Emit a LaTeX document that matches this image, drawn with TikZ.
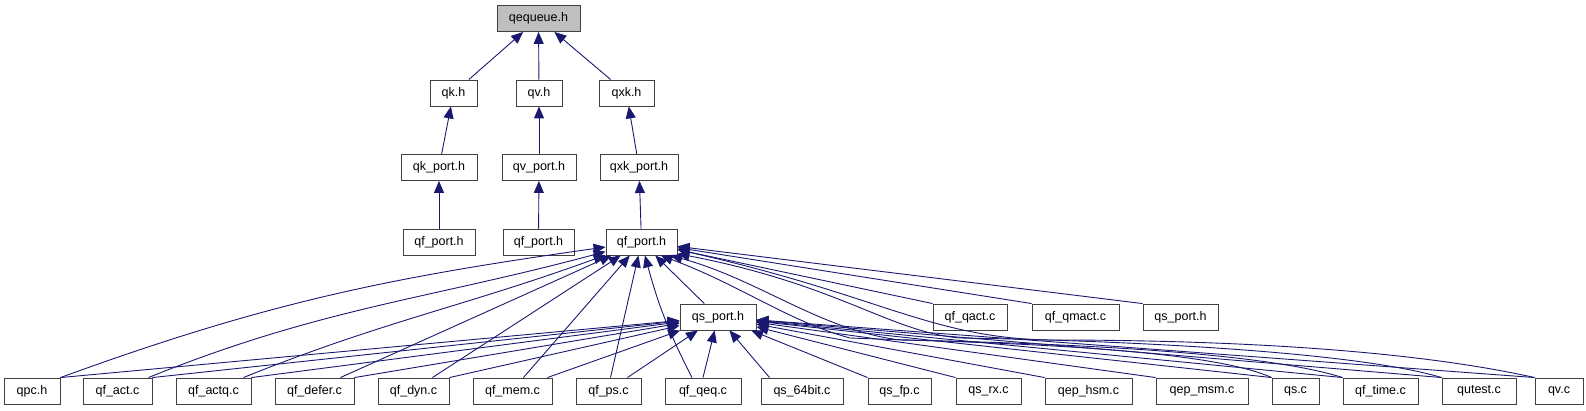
\documentclass[tikz,border=0pt]{standalone}
\usepackage{fontspec}
\setmainfont{Liberation Sans}
\usetikzlibrary{arrows.meta}
\definecolor{edgeblue}{RGB}{25,25,112}
\tikzset{
  file/.style={draw=black!75, line width=0.9pt, fill=white, minimum height=26pt,
    inner sep=0pt, font=\fontsize{12.5}{14}\selectfont},
  dep/.style={draw=edgeblue, line width=0.9pt, -{Triangle[length=12pt,width=10pt]}},
}
\begin{document}
\begin{tikzpicture}[x=1pt,y=-1pt]
\useasboundingbox (0,0) rectangle (1586,411);
% top part
\node[file, fill=black!25, minimum width=83pt] (qequeue) at (538.5,18.5) {qequeue.h};
\node[file, minimum width=47pt] (qk) at (453.5,93) {qk.h};
\node[file, minimum width=46pt] (qv) at (539,93) {qv.h};
\node[file, minimum width=55pt] (qxk) at (626.5,93) {qxk.h};
\node[file, minimum width=76pt] (qkport) at (439,167.5) {qk\_port.h};
\node[file, minimum width=74pt] (qvport) at (539,167.5) {qv\_port.h};
\node[file, minimum width=78pt] (qxkport) at (639,167.5) {qxk\_port.h};
\node[file, minimum width=72pt] (qfportk) at (439,242) {qf\_port.h};
\node[file, minimum width=71pt] (qfportv) at (538.5,242) {qf\_port.h};
\node[file, minimum width=71pt] (qfport) at (641.5,242) {qf\_port.h};
% middle row
\node[file, minimum width=76pt] (qsport) at (718,317) {qs\_port.h};
\node[file, minimum width=74pt] (qfqact) at (970,317) {qf\_qact.c};
\node[file, minimum width=87pt] (qfqmact) at (1075.5,317) {qf\_qmact.c};
\node[file, minimum width=75pt] (qsportr) at (1180.5,317) {qs\_port.h};
% bottom row
\node[file, minimum width=56pt] (qpc) at (32,391) {qpc.h};
\node[file, minimum width=69pt] (qfact) at (117.5,391) {qf\_act.c};
\node[file, minimum width=75pt] (qfactq) at (213.5,391) {qf\_actq.c};
\node[file, minimum width=79pt] (qfdefer) at (314.5,391) {qf\_defer.c};
\node[file, minimum width=71pt] (qfdyn) at (413.5,391) {qf\_dyn.c};
\node[file, minimum width=79pt] (qfmem) at (512.5,391) {qf\_mem.c};
\node[file, minimum width=65pt] (qfps) at (608.5,391) {qf\_ps.c};
\node[file, minimum width=76pt] (qfqeq) at (703,391) {qf\_qeq.c};
\node[file, minimum width=82pt] (qs64) at (802,391) {qs\_64bit.c};
\node[file, minimum width=63pt] (qsfp) at (899.5,391) {qs\_fp.c};
\node[file, minimum width=65pt] (qsrx) at (988.5,391) {qs\_rx.c};
\node[file, minimum width=87pt] (qephsm) at (1088.5,391) {qep\_hsm.c};
\node[file, minimum width=92pt] (qepmsm) at (1202,391) {qep\_msm.c};
\node[file, minimum width=47pt] (qsc) at (1295.5,391) {qs.c};
\node[file, minimum width=75pt] (qftime) at (1380.5,391) {qf\_time.c};
\node[file, minimum width=74pt] (qutest) at (1479,391) {qutest.c};
\node[file, minimum width=48pt] (qvc) at (1559,391) {qv.c};
% upper edges
\draw[dep] (qk) -- (qequeue);
\draw[dep] (qv) -- (qequeue);
\draw[dep] (qxk) -- (qequeue);
\draw[dep] (qkport) -- (qk);
\draw[dep] (qvport) -- (qv);
\draw[dep] (qxkport) -- (qxk);
\draw[dep] (qfportk) -- (qkport);
\draw[dep] (qfportv) -- (qvport);
\draw[dep] (qfport) -- (qxkport);
% into qf_port.h
\draw[dep] (qpc.north east) to[out=20,in=188] (qfport);
\draw[dep] ([xshift=-4pt]qfact.north east) to[out=22,in=195] (qfport);
\draw[dep] ([xshift=-8pt]qfactq.north east) to[out=22,in=200] (qfport);
\draw[dep] ([xshift=-14pt]qfdefer.north east) -- (qfport);
\draw[dep] ([xshift=-17pt]qfdyn.north east) -- (qfport);
\draw[dep] ([xshift=-29pt]qfmem.north east) -- (qfport);
\draw[dep] ([xshift=2pt]qfps.north) -- (qfport);
\draw[dep] ([xshift=-11pt]qfqeq.north) to[bend left=6] (qfport);
\draw[dep] (qsport) -- (qfport);
\draw[dep] (qfqact.north west) -- (qfport);
\draw[dep] (qfqmact.north west) -- (qfport);
\draw[dep] (qsportr.north west) -- (qfport);
\draw[dep] (qsc.north west) .. controls (1200,345) and (950,342) .. (850,338) .. controls (790,322) and (740,285) .. (qfport.325);
\draw[dep] (qftime.north west) .. controls (1250,348) and (1000,342) .. (900,340) .. controls (820,330) and (760,280) .. (qfport.335);
\draw[dep] (qutest.north west) .. controls (1350,350) and (1100,340) .. (960,338) .. controls (890,332) and (840,285) .. (qfport.342);
\draw[dep] (qvc.north west) .. controls (1420,352) and (1250,340) .. (1050,340) .. controls (930,338) and (880,295) .. (qfport.348);
% into qs_port.h
\draw[dep] (qpc.north east) -- (qsport);
\draw[dep] (qfact.north east) -- (qsport);
\draw[dep] (qfactq.north east) -- (qsport);
\draw[dep] (qfdefer.north east) -- (qsport);
\draw[dep] (qfdyn.north east) -- (qsport);
\draw[dep] ([xshift=-5pt]qfmem.north east) -- (qsport);
\draw[dep] ([xshift=-14pt]qfps.north east) -- (qsport);
\draw[dep] (qfqeq.north) -- (qsport);
\draw[dep] ([xshift=9pt]qs64.north west) -- (qsport);
\draw[dep] (qsfp.north west) -- (qsport);
\draw[dep] (qsrx.north west) -- (qsport);
\draw[dep] (qephsm.north west) -- (qsport);
\draw[dep] (qepmsm.north west) -- (qsport);
\draw[dep] (qsc.north west) -- (qsport);
\draw[dep] (qftime.north west) -- (qsport);
\draw[dep] (qutest.north west) -- (qsport);
\draw[dep] (qvc.north west) -- (qsport);
\end{tikzpicture}
\end{document}
